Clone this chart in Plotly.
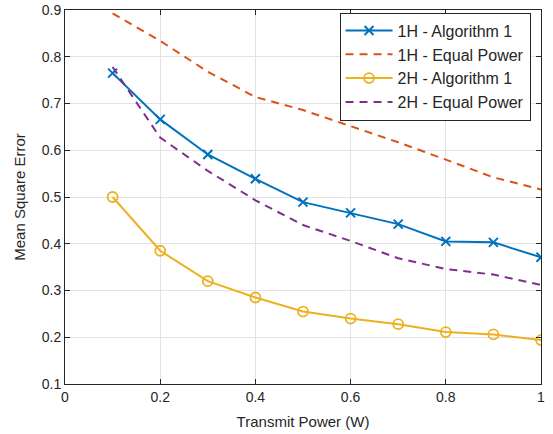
import plotly.graph_objects as go

power = [0.1, 0.2, 0.3, 0.4, 0.5, 0.6, 0.7, 0.8, 0.9, 1.0]
h1_alg = [0.765, 0.666, 0.591, 0.539, 0.489, 0.466, 0.442, 0.405, 0.403, 0.371]
h1_eq = [0.893, 0.834, 0.768, 0.714, 0.686, 0.651, 0.617, 0.580, 0.542, 0.516]
h2_alg = [0.500, 0.385, 0.320, 0.285, 0.255, 0.240, 0.228, 0.211, 0.206, 0.194]
h2_eq = [0.778, 0.627, 0.556, 0.493, 0.440, 0.406, 0.369, 0.346, 0.334, 0.312]

x_ticks = [0, 0.2, 0.4, 0.6, 0.8, 1.0]
x_ticklabels = ["0", "0.2", "0.4", "0.6", "0.8", "1"]
y_ticks = [0.1, 0.2, 0.3, 0.4, 0.5, 0.6, 0.7, 0.8, 0.9]
y_ticklabels = ["0.1", "0.2", "0.3", "0.4", "0.5", "0.6", "0.7", "0.8", "0.9"]

names = ["1H - Algorithm 1", "1H - Equal Power", "2H - Algorithm 1", "2H - Equal Power"]
colors = ["#0072BD", "#D95319", "#EDB120", "#7E2F8E"]

fig = go.Figure()
fig.add_trace(go.Scatter(x=power, y=h1_alg, name=names[0], mode="lines+markers",
                         line=dict(color=colors[0], width=2),
                         marker=dict(symbol="x-thin", size=9, line=dict(color=colors[0], width=2))))
fig.add_trace(go.Scatter(x=power, y=h1_eq, name=names[1], mode="lines",
                         line=dict(color=colors[1], width=2, dash="8px,6px")))
fig.add_trace(go.Scatter(x=power, y=h2_alg, name=names[2], mode="lines+markers",
                         line=dict(color=colors[2], width=2),
                         marker=dict(symbol="circle-open", size=10, line=dict(color=colors[2], width=1.8))))
fig.add_trace(go.Scatter(x=power, y=h2_eq, name=names[3], mode="lines",
                         line=dict(color=colors[3], width=2, dash="8px,6px")))

axis_common = dict(showline=True, linecolor="#262626", linewidth=1, mirror="ticks",
                   ticks="inside", ticklen=5, tickcolor="#262626",
                   showgrid=True, gridcolor="#E3E3E3", gridwidth=1, zeroline=False,
                   automargin=False, ticklabeloverflow="allow",
                   tickfont=dict(family="Liberation Sans, Arial", size=14, color="#262626"))

fig.update_layout(
    width=553, height=434,
    margin=dict(l=65, r=12, t=10, b=50),
    paper_bgcolor="white", plot_bgcolor="white",
    font=dict(family="Liberation Sans, Arial", size=14, color="#262626"),
    xaxis=dict(range=[0, 1], tickvals=x_ticks, ticktext=x_ticklabels,
               title=dict(text="Transmit Power (W)", font=dict(size=15), standoff=12),
               **axis_common),
    yaxis=dict(range=[0.1, 0.9], tickvals=y_ticks, ticktext=y_ticklabels,
               title=dict(text="Mean Square Error", font=dict(size=15), standoff=12),
               **axis_common),
    legend=dict(x=0.978, y=0.993, xanchor="right", yanchor="top",
                bgcolor="white", bordercolor="#262626", borderwidth=1,
                font=dict(size=16, color="#262626"), tracegroupgap=0,
                itemwidth=47),
    showlegend=True,
)

# Remove the browser's default 8px body margin so the figure fills the window.
fig.write_html("out.html", config={"displayModeBar": False},
               post_script="document.body.style.margin='0';")
